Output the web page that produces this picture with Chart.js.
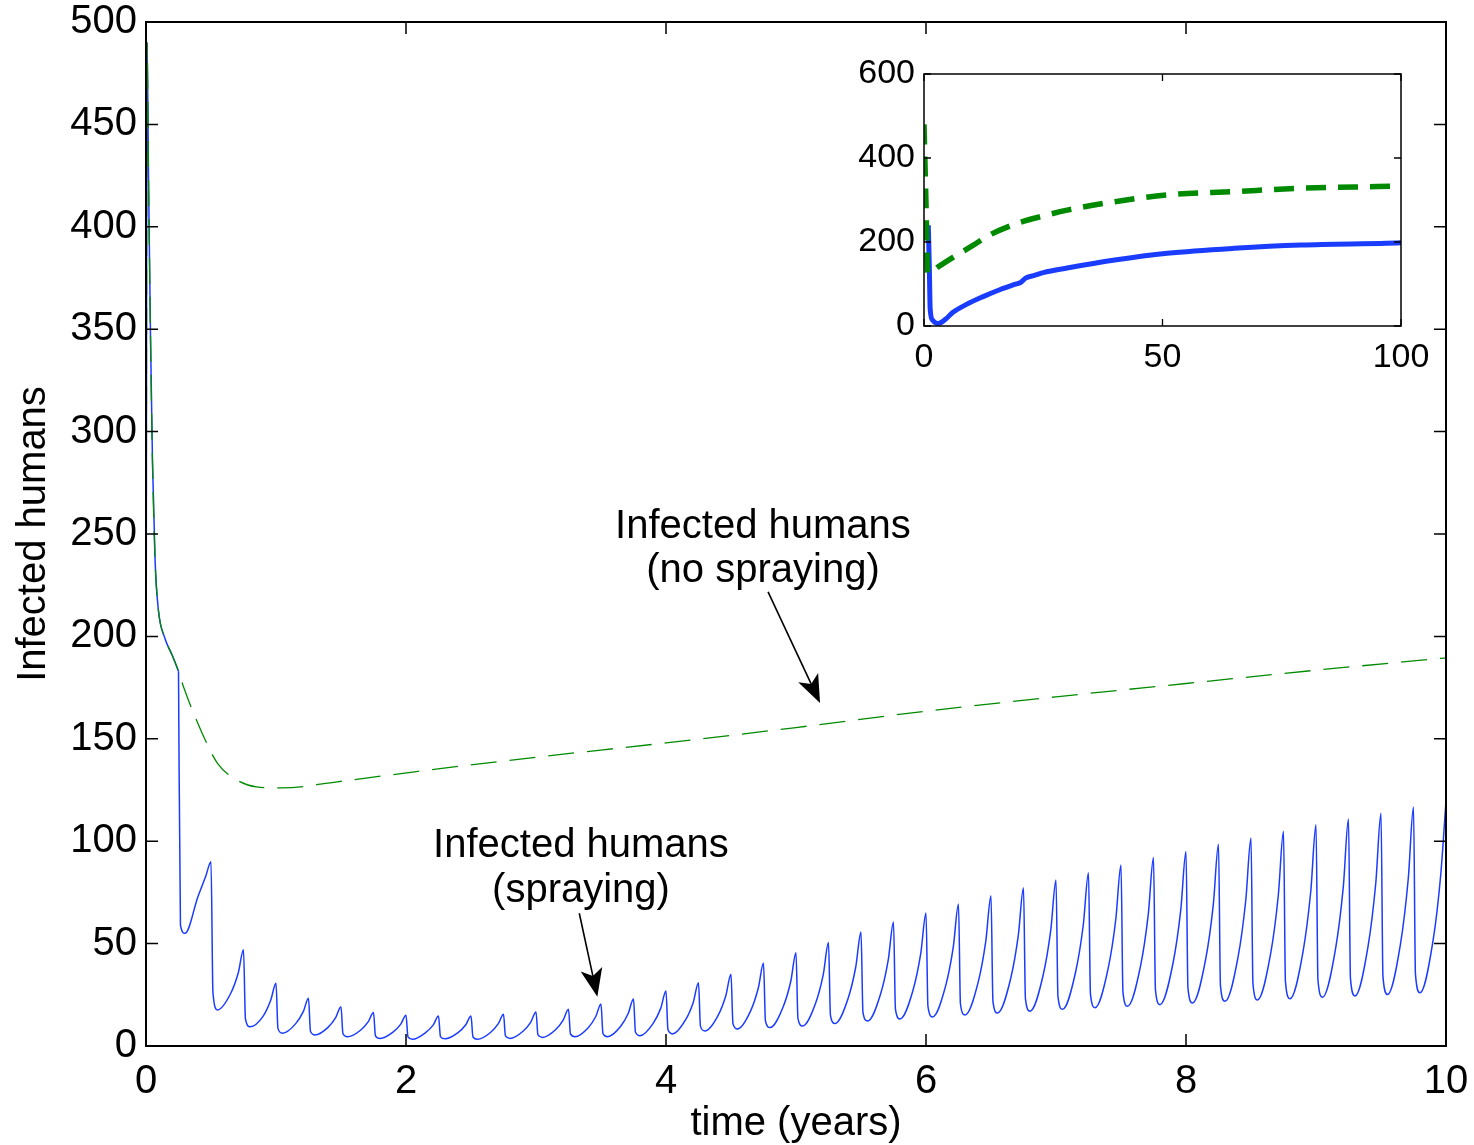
<!DOCTYPE html>
<html>
<head>
<meta charset="utf-8">
<script src="https://cdn.jsdelivr.net/npm/chart.js@4.4.0/dist/chart.umd.min.js"></script>
<style>
  html, body { margin: 0; padding: 0; background: #fff; }
  #wrap { position: relative; width: 1474px; height: 1145px; }
  #main { position: absolute; left: 0; top: 0; }
  #inset { position: absolute; left: 840px; top: 50px; }
</style>
</head>
<body>
<div id="wrap">
  <canvas id="main" width="1474" height="1145"></canvas>
  <canvas id="inset" width="600" height="330"></canvas>
</div>
<script>
// ---- main plot data (time in years, infected humans) ----
// start of the run, shared by both scenarios up to the first spraying
const startTimes = [0, 0.008, 0.02, 0.035, 0.05, 0.07, 0.095, 0.146, 0.2, 0.25];
const startValues = [100, 490, 420, 345, 285, 237, 213, 199, 191, 183];

// no spraying (dashed green) after t = 0.25
const noSprayTimes = [0.285, 0.43, 0.55, 0.67, 0.85, 1.05, 1.47, 2.08, 3, 4, 5, 6, 7, 8, 9, 10];
const noSprayValues = [176, 153, 138, 131, 126.5, 126, 129, 134, 141, 148, 155.5, 163.5, 170.5, 177, 183.5, 189.5];

// spraying (blue): one spraying every quarter year
const sprayStep = 0.25;
// value just before each spraying, t = 0.25, 0.5, ... 10
const sprayPeak = [183, 90, 47, 30.6, 23.3, 19.2, 16.4, 15, 14.6, 14.6, 15.5, 16.6, 18, 20.5, 23, 26.8,
  30.9, 35, 40.5, 45.5, 50.5, 55.7, 60.6, 65, 69.3, 73.4, 77.3, 81, 84.6, 88.4, 92, 95, 98.5, 101.6,
  104.8, 108, 110.8, 113.7, 116.7, 119.6];
// value shortly after the spraying (steep fall)
const sprayDrop = [59, 26, 13.2, 8.6, 7.2, 6, 5, 4.5, 4.6, 4.4, 4.9, 5.4, 5.9, 6.1, 6.8, 8, 9.7, 11,
  12.2, 13.4, 15, 16.6, 18, 19.3, 20.5, 21.8, 23, 24.2, 25.3, 26.3, 27.4, 28.4, 29.5, 30.4, 31.3,
  32.2, 33, 34, 35.1];
// minimum reached after the spraying
const sprayLow = [55, 17.6, 9.4, 6.2, 5.4, 4.5, 3.7, 3.3, 3.5, 3.3, 3.7, 4.2, 4.5, 4.5, 5, 5.9, 7.3,
  8.3, 9, 9.8, 11, 12.2, 13.2, 14.2, 15.1, 16.1, 17, 17.9, 18.7, 19.4, 20.2, 21, 21.8, 22.5, 23.1,
  23.8, 24.4, 25.2, 26];
// recovery values part way to the next spraying
const sprayRise1 = [73, 25.5, 14.5, 10.8, 9.1, 7.7, 6.8, 6.5, 6.5, 6.6, 7.2, 7.9, 8.8, 9.5, 10.9, 12.7,
  14.8, 17, 18.9, 20.8, 23.1, 25.3, 27.2, 29.1, 30.8, 32.6, 34.3, 35.9, 37.5, 39, 40.4, 41.9, 43.3,
  44.7, 46, 47.3, 48.5, 49.9, 51.3];
const sprayRise2 = [83, 35.8, 22.5, 16.8, 14, 11.9, 10.7, 10.3, 10.4, 10.9, 11.7, 12.8, 14.4, 16, 18.5,
  21.4, 24.5, 28.3, 31.6, 35, 38.7, 42.2, 45.3, 48.4, 51.2, 54, 56.7, 59.2, 61.9, 64.4, 66.6, 69, 71.3,
  73.5, 75.7, 77.7, 79.7, 81.9, 84];
// time after a spraying at which the values above were read
const dropAfter = 0.015, lowAfter = 0.05, rise1After = 0.15, rise2After = 0.21;

const mainXTicks = [0, 2, 4, 6, 8, 10];
const mainYTicks = [0, 50, 100, 150, 200, 250, 300, 350, 400, 450, 500];

// ---- inset data (100 years) ----
const insetNoSprayTimes = [0, 0.4, 0.8, 1.2, 3, 6, 10, 14, 19.4, 25, 30, 40, 51, 65, 79, 95, 100];
const insetNoSprayValues = [480, 300, 125, 126, 141, 163, 190, 218, 244, 262, 276, 296, 312, 320, 328, 332, 333];
const insetSprayTimes = [0.9, 1.1, 1.3, 1.8, 2.9, 4.5, 6, 9, 12.4, 16, 19, 20.3, 21.3, 23, 25, 30, 40, 51, 65, 79, 97, 100];
const insetSprayValues = [240, 150, 40, 14, 6, 16, 32, 52, 70, 87, 99, 104, 114, 120, 127, 138, 157, 173, 185, 193, 197, 198];
const insetXTicks = [0, 50, 100];
const insetYTicks = [0, 200, 400, 600];

const BLUE = "#1a3cff";
const GREEN = "#008a00";
const FONT = "'Liberation Sans', Arial, Helvetica, sans-serif";

Chart.defaults.font.family = FONT;
Chart.defaults.color = "#000";

function pairs(xs, ys) {
  return xs.map((x, i) => ({ x, y: ys[i] }));
}

const startData = pairs(startTimes, startValues);
const noSprayData = startData.concat(pairs(noSprayTimes, noSprayValues));

// after the first spraying the blue curve has its own sharp corner
const sprayData = [{ x: sprayStep, y: sprayPeak[0] }];
for (let k = 0; k < sprayLow.length; k++) {
  const s = (k + 1) * sprayStep;
  sprayData.push({ x: s + dropAfter, y: sprayDrop[k] });
  sprayData.push({ x: s + lowAfter, y: sprayLow[k] });
  sprayData.push({ x: s + rise1After, y: sprayRise1[k] });
  sprayData.push({ x: s + rise2After, y: sprayRise2[k] });
  sprayData.push({ x: s + sprayStep, y: sprayPeak[k + 1] });
}

// box round the plot area with MATLAB style inward ticks
const boxTicks = {
  id: "boxTicks",
  beforeDatasetsDraw(chart, args, opts) {
    const { ctx, chartArea: a } = chart;
    if (opts.fill) {
      ctx.save();
      ctx.fillStyle = "#fff";
      ctx.fillRect(a.left, a.top, a.width, a.height);
      ctx.restore();
    }
  },
  afterDatasetsDraw(chart, args, opts) {
    const { ctx, chartArea: a, scales: { x, y } } = chart;
    ctx.save();
    ctx.strokeStyle = "#000";
    ctx.lineWidth = opts.tickWidth;
    ctx.beginPath();
    opts.xTicks.forEach(v => {
      const px = x.getPixelForValue(v);
      ctx.moveTo(px, a.bottom); ctx.lineTo(px, a.bottom - opts.len);
      ctx.moveTo(px, a.top); ctx.lineTo(px, a.top + opts.len);
    });
    opts.yTicks.forEach(v => {
      const py = y.getPixelForValue(v);
      ctx.moveTo(a.left, py); ctx.lineTo(a.left + opts.len, py);
      ctx.moveTo(a.right, py); ctx.lineTo(a.right - opts.len, py);
    });
    ctx.stroke();
    ctx.lineWidth = opts.boxWidth;
    ctx.strokeRect(a.left, a.top, a.width, a.height);
    ctx.restore();
  }
};

// labels and arrows, placed in data coordinates
const notes = {
  id: "notes",
  afterDraw(chart) {
    const { ctx, scales: { x, y } } = chart;
    ctx.save();
    ctx.fillStyle = "#000";
    ctx.strokeStyle = "#000";
    ctx.font = "40px " + FONT;
    ctx.textAlign = "center";
    ctx.textBaseline = "alphabetic";
    ctx.fillText("Infected humans", x.getPixelForValue(4.746), y.getPixelForValue(248));
    ctx.fillText("(no spraying)", x.getPixelForValue(4.746), y.getPixelForValue(226.6));
    ctx.fillText("Infected humans", x.getPixelForValue(3.346), y.getPixelForValue(92.1));
    ctx.fillText("(spraying)", x.getPixelForValue(3.346), y.getPixelForValue(70.5));

    const arrow = (x0, y0, x1, y1) => {
      const ax = x.getPixelForValue(x0), ay = y.getPixelForValue(y0);
      const bx = x.getPixelForValue(x1), by = y.getPixelForValue(y1);
      const len = Math.hypot(bx - ax, by - ay);
      const ux = (bx - ax) / len, uy = (by - ay) / len;
      const nx = -uy, ny = ux;
      const L = 28, W = 11, N = 7;
      ctx.lineWidth = 1.6;
      ctx.beginPath();
      ctx.moveTo(ax, ay);
      ctx.lineTo(bx - ux * (L - N), by - uy * (L - N));
      ctx.stroke();
      ctx.beginPath();
      ctx.moveTo(bx, by);
      ctx.lineTo(bx - ux * L + nx * W, by - uy * L + ny * W);
      ctx.lineTo(bx - ux * (L - N), by - uy * (L - N));
      ctx.lineTo(bx - ux * L - nx * W, by - uy * L - ny * W);
      ctx.closePath();
      ctx.fill();
    };
    arrow(4.785, 221.7, 5.185, 167.5);
    arrow(3.333, 64.8, 3.472, 24.1);
    ctx.restore();
  }
};

const lineStyle = { pointRadius: 0, cubicInterpolationMode: "monotone", fill: false };

new Chart(document.getElementById("main"), {
  type: "line",
  data: {
    datasets: [
      Object.assign({
        label: "Infected humans (no spraying)",
        data: noSprayData,
        borderColor: GREEN,
        borderWidth: 1.3,
        borderDash: [26, 13]
      }, lineStyle),
      Object.assign({
        label: "start",
        data: startData,
        borderColor: BLUE,
        borderWidth: 1.5
      }, lineStyle),
      Object.assign({
        label: "Infected humans (spraying)",
        data: sprayData,
        borderColor: BLUE,
        borderWidth: 1.5
      }, lineStyle)
    ]
  },
  plugins: [boxTicks, notes],
  options: {
    responsive: false,
    animation: false,
    layout: { padding: { top: 22, right: 28, left: 0, bottom: 0 } },
    plugins: {
      legend: { display: false },
      tooltip: { enabled: false },
      boxTicks: { xTicks: mainXTicks, yTicks: mainYTicks, len: 12, tickWidth: 1.5, boxWidth: 2 }
    },
    scales: {
      x: {
        type: "linear",
        min: 0,
        max: 10,
        afterFit: s => { s.height = 99; s.paddingLeft = 0; s.paddingRight = 0; },
        afterBuildTicks: s => { s.ticks = mainXTicks.map(v => ({ value: v })); },
        grid: { display: false, drawTicks: false },
        border: { display: false },
        ticks: { font: { size: 40 }, padding: 12, maxRotation: 0, color: "#000" },
        title: { display: true, text: "time (years)", font: { size: 40, lineHeight: 1.05 }, padding: { top: 0, bottom: 0 }, color: "#000" }
      },
      y: {
        type: "linear",
        min: 0,
        max: 500,
        afterFit: s => { s.width = 146; s.paddingTop = 0; s.paddingBottom = 0; },
        afterBuildTicks: s => { s.ticks = mainYTicks.map(v => ({ value: v })); },
        grid: { display: false, drawTicks: false },
        border: { display: false },
        ticks: { font: { size: 40 }, padding: 9, color: "#000" },
        title: { display: true, text: "Infected humans", font: { size: 40 }, padding: { top: 10 }, color: "#000" }
      }
    }
  }
});

new Chart(document.getElementById("inset"), {
  type: "line",
  data: {
    datasets: [
      Object.assign({
        label: "no spraying",
        data: pairs(insetNoSprayTimes, insetNoSprayValues),
        borderColor: GREEN,
        borderWidth: 5.5,
        borderDash: [20, 12]
      }, lineStyle),
      Object.assign({
        label: "spraying",
        data: pairs(insetSprayTimes, insetSprayValues),
        borderColor: BLUE,
        borderWidth: 5
      }, lineStyle)
    ]
  },
  plugins: [boxTicks],
  options: {
    responsive: false,
    animation: false,
    layout: { padding: { top: 24, right: 39, left: 0, bottom: 0 } },
    plugins: {
      legend: { display: false },
      tooltip: { enabled: false },
      boxTicks: { xTicks: insetXTicks, yTicks: insetYTicks, len: 7, tickWidth: 1.3, boxWidth: 1.5, fill: true }
    },
    scales: {
      x: {
        type: "linear",
        min: 0,
        max: 100,
        afterFit: s => { s.height = 54; s.paddingLeft = 0; s.paddingRight = 0; },
        afterBuildTicks: s => { s.ticks = insetXTicks.map(v => ({ value: v })); },
        grid: { display: false, drawTicks: false },
        border: { display: false },
        ticks: { font: { size: 34 }, padding: 11, maxRotation: 0, color: "#000" }
      },
      y: {
        type: "linear",
        min: 0,
        max: 600,
        afterFit: s => { s.width = 84; s.paddingTop = 0; s.paddingBottom = 0; },
        afterBuildTicks: s => { s.ticks = insetYTicks.map(v => ({ value: v })); },
        grid: { display: false, drawTicks: false },
        border: { display: false },
        ticks: { font: { size: 34 }, padding: 9, color: "#000" }
      }
    }
  }
});
</script>
</body>
</html>
